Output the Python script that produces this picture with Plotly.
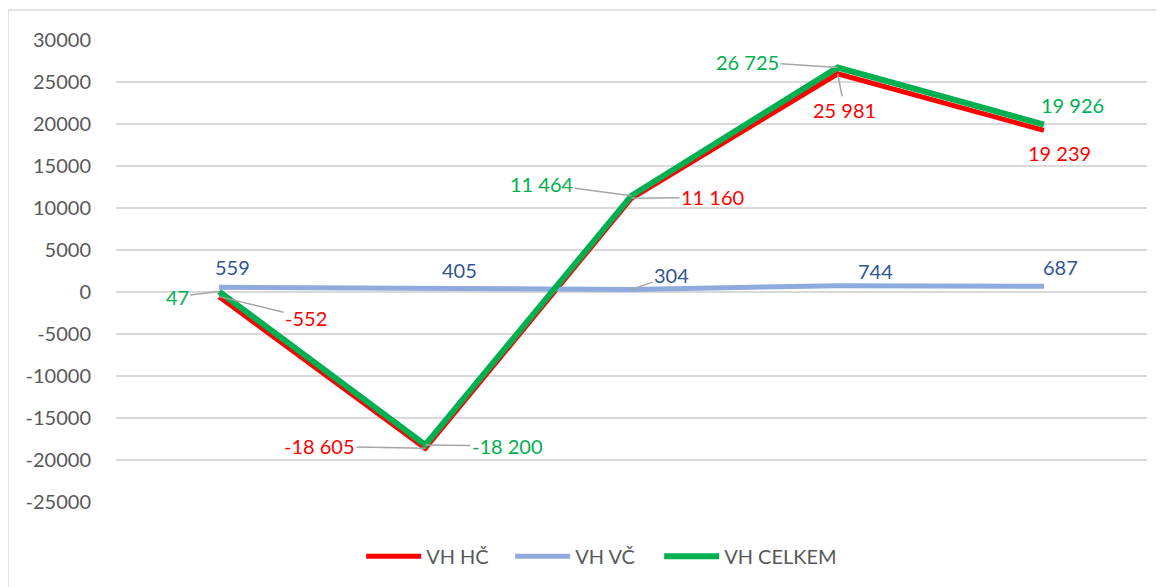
import plotly.graph_objects as go

# ---- data ----
categories = ["1", "2", "3", "4", "5"]
series_names = ["VH HČ", "VH VČ", "VH CELKEM"]
vh_hc = [-552, -18605, 11160, 25981, 19239]
vh_vc = [559, 405, 304, 744, 687]
vh_celkem = [47, -18200, 11464, 26725, 19926]
tick_values = [-25000, -20000, -15000, -10000, -5000, 0, 5000, 10000, 15000, 20000, 25000, 30000]
tick_labels = ["-25000", "-20000", "-15000", "-10000", "-5000", "0", "5000", "10000",
               "15000", "20000", "25000", "30000"]

# ---- styling ----
line_colors = ["#FF0000", "#8FAADC", "#00B050"]
label_colors = ["#FF0000", "#2F5597", "#00B050"]
line_widths = [5, 5, 6]
FONT = "Lato, Liberation Sans, Arial, sans-serif"

# label offsets (pixels, text centre relative to point) and leader-line flags
label_offsets = [
    [(87, 21), (-106, -2), (81, -1), (7, 36), (16, 23)],
    [(13, -20), (34, -19), (40, -14), (38, -15), (17, -19)],
    [(-42, 5), (82, 1), (-90, -12), (-90, -6), (29, -20)],
]
leaders = [
    [True, True, True, True, False],
    [False, False, True, False, False],
    [True, True, True, True, False],
]

all_series = [vh_hc, vh_vc, vh_celkem]


def fmt(v):
    return f"{v:,}".replace(",", " ")


fig = go.Figure()
xs = list(range(len(categories)))
for name, vals, col, w in zip(series_names, all_series, line_colors, line_widths):
    fig.add_trace(go.Scatter(x=xs, y=vals, mode="lines", name=name,
                             line=dict(color=col, width=w),
                             hoverinfo="skip"))
# invisible spacer entry so the last legend label is not clipped
fig.add_trace(go.Scatter(x=[None], y=[None], mode="lines", name=" ",
                         line=dict(color="rgba(0,0,0,0)", width=1),
                         hoverinfo="skip", showlegend=True))

annotations = []
for si, vals in enumerate(all_series):
    for i, v in enumerate(vals):
        ax, ay = label_offsets[si][i]
        annotations.append(dict(
            x=xs[i], y=v, xref="x", yref="y",
            text=fmt(v), showarrow=True, arrowhead=0, arrowwidth=1.5,
            arrowcolor="#A6A6A6" if leaders[si][i] else "rgba(0,0,0,0)",
            ax=ax, ay=ay, standoff=0,
            font=dict(family=FONT, size=20, color=label_colors[si]),
        ))

fig.update_layout(
    width=1156, height=579,
    margin=dict(l=108, r=17, t=32, b=84),
    paper_bgcolor="white", plot_bgcolor="white",
    showlegend=True,
    legend=dict(orientation="h", x=0.2378, xanchor="left", y=-0.115, yanchor="middle",
                font=dict(family=FONT, size=20, color="#595959"),
                itemwidth=55, entrywidth=79, traceorder="normal"),
    annotations=annotations,
    shapes=[dict(type="rect", xref="paper", yref="paper",
                 x0=-0.1048, x1=1.05, y0=-0.4, y1=1.0648,
                 line=dict(color="#D9D9D9", width=1.5), fillcolor="rgba(0,0,0,0)",
                 layer="below")],
    xaxis=dict(range=[-0.5, 4.5], showgrid=False, zeroline=False, showticklabels=False,
               showline=False, ticks=""),
    yaxis=dict(range=[-25000, 30000], tickvals=tick_values, ticktext=tick_labels,
               showgrid=True, gridcolor="#D9D9D9", gridwidth=1.5,
               zeroline=True, zerolinecolor="#D9D9D9", zerolinewidth=1.5,
               showline=False, ticks="outside", ticklen=20, tickcolor="rgba(0,0,0,0)",
               tickfont=dict(family=FONT, size=20, color="#595959")),
)

fig.write_html("out.html")
